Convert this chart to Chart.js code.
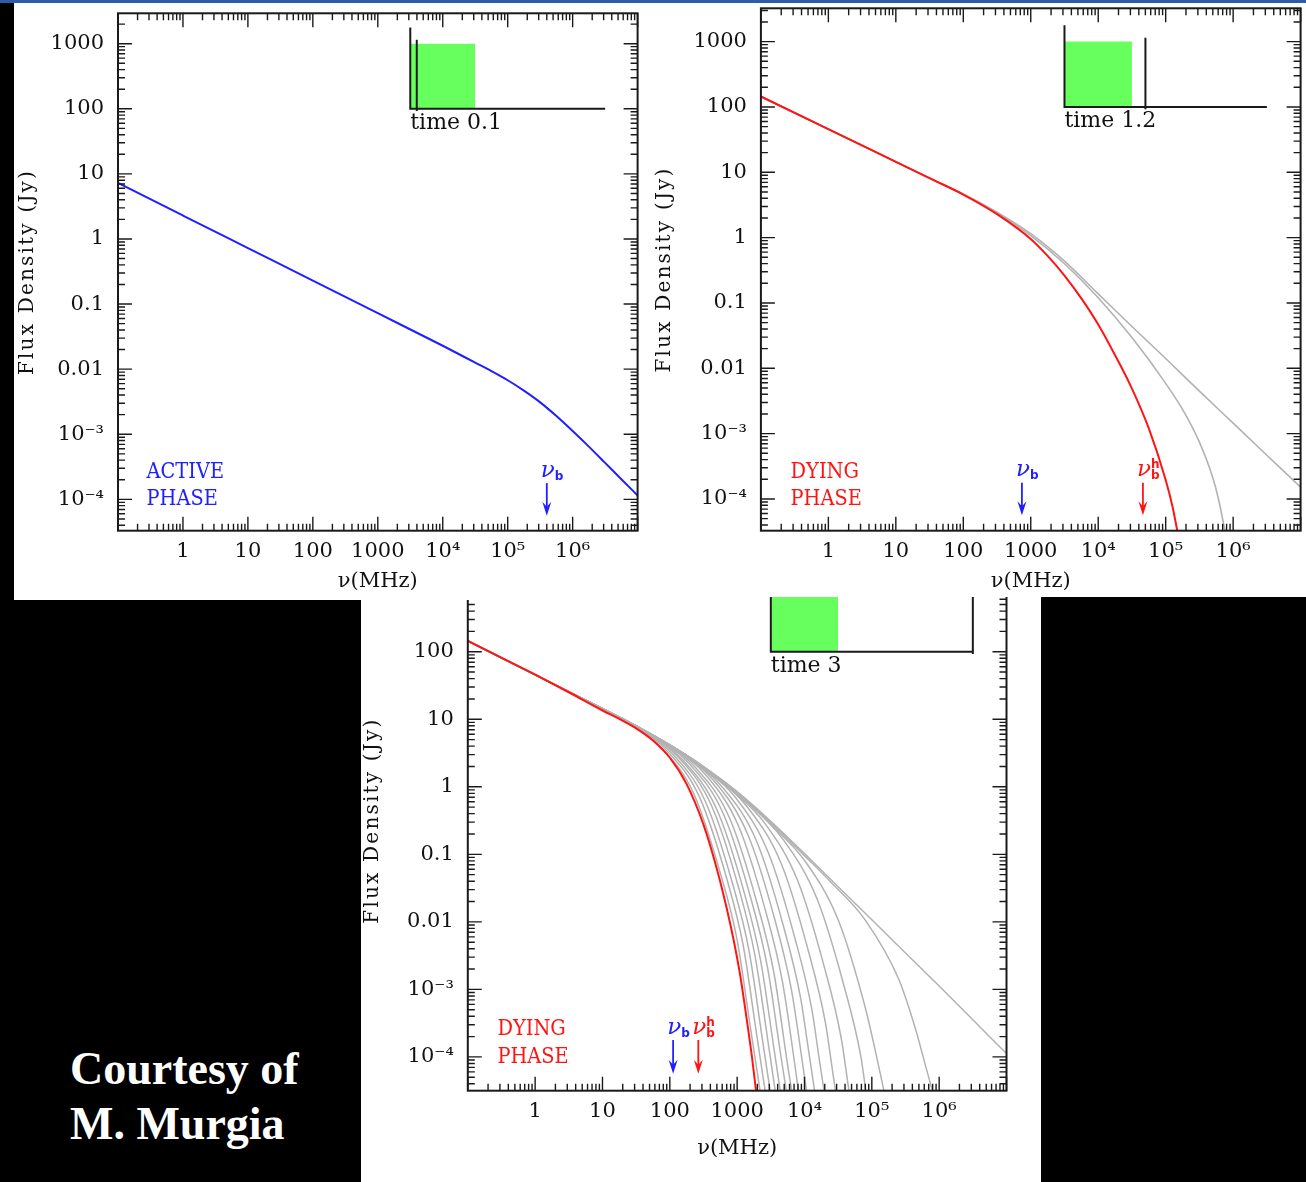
<!DOCTYPE html>
<html>
<head>
<meta charset="utf-8">
<title>Radio spectra: active and dying phase</title>
<script src="https://cdn.jsdelivr.net/npm/chart.js@4.4.1/dist/chart.umd.min.js"></script>
<style>
  html, body { margin: 0; padding: 0; }
  body { width: 1306px; height: 1182px; background: #000; position: relative; overflow: hidden; }
  canvas { display: block; }
  #strip { position: absolute; left: 0; top: 0; width: 1306px; height: 3px; background: #2d5da6; z-index: 3; }
  .panel { position: absolute; background: #fff; }
  #boxA { left: 14px; top: 3px; width: 640px; height: 597px; z-index: 2; }
  #boxB { left: 654px; top: 3px; width: 652px; height: 594px; z-index: 2; }
  #boxC { left: 361px; top: 597px; width: 680px; height: 585px; overflow: hidden; z-index: 1; }
  #boxC canvas { position: absolute; left: 0; top: -67px; }
  .credit { position: absolute; left: 70px; color: #fff; font: bold 46px "Liberation Serif", serif; line-height: 1; white-space: nowrap; }
</style>
</head>
<body>
<div id="strip"></div>
<div class="panel" id="boxA"><canvas id="active" width="640" height="597"></canvas></div>
<div class="panel" id="boxB"><canvas id="dying12" width="652" height="594"></canvas></div>
<div class="panel" id="boxC"><canvas id="dying3" width="680" height="652"></canvas></div>
<div class="credit" style="top:1046px">Courtesy of</div>
<div class="credit" style="top:1101px">M. Murgia</div>

<script>
// axis ticks (spectra below are given as [log10 nu(MHz), log10 S(Jy)])
const xTickValues = [1, 10, 100, 1000, 1e4, 1e5, 1e6];
const xTickLabels = ['1', '10', '100', '1000', '10⁴', '10⁵', '10⁶'];
const yTickValues = [1e-4, 1e-3, 0.01, 0.1, 1, 10, 100, 1000];
const yTickLabels = ['10⁻⁴', '10⁻³', '0.01', '0.1', '1', '10', '100', '1000'];

// time 0.1 - active phase
const activeSpectrum = [[-1, 0.86], [0, 0.36], [1, -0.14], [2, -0.64], [3, -1.14], [4, -1.64], [4.5, -1.90],
  [4.75, -2.03], [5, -2.17], [5.25, -2.33], [5.5, -2.51], [5.75, -2.72], [6, -2.95], [6.25, -3.19], [6.5, -3.44],
  [6.75, -3.69], [7, -3.94]];
const activeBreaks = [4.0e5];

// time 1.2 - dying phase
const t12Spectrum = [[-1, 2.16], [0, 1.66], [1, 1.16], [1.5, 0.91], [2, 0.66], [2.5, 0.36], [3, -0.02],
  [3.25, -0.28], [3.5, -0.58], [3.75, -0.93], [4, -1.33], [4.25, -1.80], [4.5, -2.31], [4.75, -2.92],
  [5, -3.71], [5.1, -4.11], [5.175, -4.5]];
const t12Earlier = [
  [[-1, 2.16], [0, 1.66], [1, 1.16], [1.5, 0.91], [2, 0.67], [2.5, 0.39], [3, 0.06], [3.5, -0.36], [4, -0.86],
   [4.5, -1.36], [5, -1.85], [5.5, -2.35], [6, -2.84], [6.5, -3.33], [7, -3.82]],
  [[-1, 2.16], [0, 1.66], [1, 1.16], [1.5, 0.91], [2, 0.66], [2.5, 0.38], [3, 0.03], [3.5, -0.40], [4, -0.92],
   [4.5, -1.53], [5, -2.23], [5.25, -2.63], [5.5, -3.13], [5.7, -3.68], [5.8, -4.08], [5.88, -4.5]]
];
const t12Breaks = [740, 4.6e4];

// time 3 - dying phase
const t3Spectrum = [[-1, 2.16], [0, 1.66], [0.5, 1.40], [1, 1.13], [1.25, 1.005], [1.5, 0.865], [1.75, 0.685],
  [2, 0.43], [2.25, 0.04], [2.5, -0.56], [2.7, -1.22], [2.85, -1.82], [2.95, -2.28], [3.05, -2.82], [3.15, -3.50],
  [3.22, -4.0], [3.28, -4.5]];
const t3Earlier = [
  [[-1, 2.16], [0, 1.66], [1, 1.16], [1.5, 0.90], [2, 0.62], [2.5, 0.30], [3, -0.07], [3.5, -0.51], [4, -0.99],
   [4.5, -1.48], [5, -1.97], [5.5, -2.46], [6, -2.95], [6.5, -3.45], [7, -3.95]],
  [[-1, 2.16], [0, 1.66], [1, 1.16], [1.5, 0.90], [2, 0.62], [2.5, 0.30], [3, -0.08], [3.5, -0.53], [4, -1.02],
   [4.4, -1.42], [4.9, -1.97], [5.4, -2.85], [5.65, -3.59], [5.8, -4.14], [5.9, -4.5]],
  [[-1, 2.16], [0, 1.66], [1, 1.16], [1.5, 0.90], [2, 0.62], [2.5, 0.30], [3, -0.09], [3.5, -0.56], [4.0, -1.09],
   [4.5, -1.97], [4.9, -3.26], [5.05, -3.90], [5.18, -4.5]],
  [[-1, 2.16], [0, 1.66], [1, 1.16], [1.5, 0.90], [2, 0.62], [2.5, 0.29], [3, -0.10], [3.69, -0.79], [4.19, -1.67],
   [4.59, -2.96], [4.84, -4.01], [4.91, -4.5]],
  [[-1, 2.16], [0, 1.66], [1, 1.16], [1.5, 0.90], [2, 0.62], [2.5, 0.29], [3.0, -0.12], [3.395, -0.52], [3.895, -1.38],
   [4.295, -2.67], [4.545, -3.72], [4.66, -4.5]],
  [[-1, 2.16], [0, 1.66], [1, 1.16], [1.5, 0.90], [2, 0.62], [2.5, 0.28], [3.16, -0.31], [3.66, -1.15], [4.06, -2.44],
   [4.31, -3.49], [4.41, -4.16], [4.46, -4.5]],
  [[-1, 2.16], [0, 1.66], [1, 1.15], [1.5, 0.90], [2, 0.61], [2.5, 0.27], [2.96, -0.14], [3.46, -0.97], [3.86, -2.25],
   [4.11, -3.30], [4.21, -3.97], [4.29, -4.5]],
  [[-1, 2.16], [0, 1.66], [1, 1.15], [1.5, 0.90], [2, 0.61], [2.795, -0.02], [3.295, -0.82], [3.695, -2.09],
   [3.945, -3.14], [4.045, -3.80], [4.15, -4.5]],
  [[-1, 2.16], [0, 1.66], [1, 1.15], [1.5, 0.90], [2, 0.61], [2.655, 0.09], [3.155, -0.70], [3.555, -1.95],
   [3.805, -3.00], [4.005, -4.33], [4.03, -4.5]],
  [[-1, 2.16], [0, 1.66], [1, 1.15], [1.5, 0.90], [2, 0.61], [2.52, 0.19], [3.02, -0.58], [3.42, -1.83],
   [3.67, -2.87], [3.87, -4.21], [3.91, -4.5]],
  [[-1, 2.16], [0, 1.66], [1, 1.15], [1.5, 0.90], [2.395, 0.27], [2.895, -0.48], [3.295, -1.72], [3.545, -2.75],
   [3.745, -4.09], [3.81, -4.5]],
  [[-1, 2.16], [0, 1.66], [1, 1.15], [1.5, 0.90], [2.3, 0.33], [2.8, -0.41], [3.2, -1.64], [3.45, -2.67],
   [3.65, -3.99], [3.73, -4.5]],
  [[-1, 2.16], [0, 1.66], [1, 1.15], [1.5, 0.90], [2.2, 0.39], [2.7, -0.34], [3.1, -1.55], [3.35, -2.58],
   [3.55, -3.90], [3.64, -4.5]],
  [[-1, 2.16], [0, 1.66], [1, 1.15], [1.5, 0.89], [2.115, 0.45], [2.615, -0.27], [3.015, -1.47], [3.265, -2.50],
   [3.465, -3.82], [3.565, -4.5]],
  [[-1, 2.16], [0, 1.66], [1, 1.15], [1.5, 0.89], [2.025, 0.50], [2.525, -0.21], [2.925, -1.41], [3.175, -2.42],
   [3.375, -3.74], [3.49, -4.5]],
  [[-1, 2.16], [0, 1.66], [1, 1.15], [1.5, 0.88], [1.94, 0.55], [2.44, -0.15], [2.84, -1.34], [3.09, -2.35],
   [3.29, -3.67], [3.415, -4.5]],
  [[-1, 2.16], [0, 1.66], [1, 1.15], [1.5, 0.87], [1.85, 0.60], [2.35, -0.09], [2.75, -1.28], [3.0, -2.27],
   [3.2, -3.59], [3.34, -4.5]]
];
const t3Breaks = [112, 265];

// little time inset: active phase lasts 1 unit, axis runs to 3
const activePhaseEnd = 1;
const timeAxisEnd = 3;
const insetLogNuAtZero = 3.5;

const BLUE = '#2020ff', RED = '#ff1414', GREY = '#b2b2b2', INK = '#1a1a1a';

Chart.defaults.font.family = '"DejaVu Serif", serif';
Chart.defaults.color = '#111';

function spectrum(points, color, width) {
  return {
    data: points.map(p => ({ x: 10 ** p[0], y: 10 ** p[1] })),
    borderColor: color, borderWidth: width, pointRadius: 0, fill: false,
    cubicInterpolationMode: 'monotone'
  };
}

function insetSets(now) {
  const at = t => 10 ** (insetLogNuAtZero + t);
  return [
    { data: [{ x: at(now), y: 10 ** 3.06 }, { x: at(now), y: 10 ** 1.965 }],
      borderColor: INK, borderWidth: 2, pointRadius: 0, tension: 0 },
    { data: [{ x: at(0), y: 10 ** 3.25 }, { x: at(0), y: 100 }, { x: at(timeAxisEnd), y: 100 }],
      borderColor: INK, borderWidth: 2, pointRadius: 0, tension: 0 },
    { data: [{ x: at(0), y: 1000 }, { x: at(activePhaseEnd), y: 1000 }],
      borderColor: 'rgba(0,0,0,0)', backgroundColor: '#66ff5e', fill: { value: 100 }, pointRadius: 0, tension: 0 }
  ];
}

function logMarks(min, max) {
  const out = [];
  for (let e = Math.floor(Math.log10(min)); e <= Math.ceil(Math.log10(max)); e++) {
    for (let k = 1; k <= 9; k++) {
      const v = k * 10 ** e;
      if (v >= min * 0.999 && v <= max * 1.001) out.push({ v, major: k === 1 });
    }
  }
  return out;
}

function decorations(spec) {
  return {
    id: 'decorations',
    afterDraw(chart) {
      const { ctx, chartArea: a } = chart;
      const xs = chart.scales.x, ys = chart.scales.y;
      const X = v => xs.getPixelForValue(v), Y = v => ys.getPixelForValue(v);
      ctx.save();

      // box with inward ticks on all sides
      ctx.strokeStyle = INK;
      ctx.lineWidth = 2;
      ctx.strokeRect(a.left, a.top, a.right - a.left, a.bottom - a.top);
      ctx.lineWidth = 1.4;
      ctx.beginPath();
      logMarks(xs.min, xs.max).forEach(t => {
        const px = X(t.v), len = t.major ? 14 : 7;
        ctx.moveTo(px, a.bottom); ctx.lineTo(px, a.bottom - len);
        ctx.moveTo(px, a.top); ctx.lineTo(px, a.top + len);
      });
      logMarks(ys.min, ys.max).forEach(t => {
        const py = Y(t.v), len = t.major ? 14 : 7;
        ctx.moveTo(a.left, py); ctx.lineTo(a.left + len, py);
        ctx.moveTo(a.right, py); ctx.lineTo(a.right - len, py);
      });
      ctx.stroke();

      // y title, widely spaced like the original
      ctx.save();
      ctx.translate(spec.yTitleX, (a.top + a.bottom) / 2);
      ctx.rotate(-Math.PI / 2);
      ctx.fillStyle = '#111';
      ctx.font = '20px "DejaVu Serif"';
      ctx.textAlign = 'center';
      ctx.textBaseline = 'middle';
      ctx.letterSpacing = '2.2px';
      ctx.fillText('Flux Density (Jy)', 0, 0);
      ctx.restore();

      // inset caption
      ctx.fillStyle = '#111';
      ctx.font = '22px "DejaVu Serif"';
      ctx.textAlign = 'left';
      ctx.textBaseline = 'middle';
      ctx.fillText('time ' + spec.time, X(10 ** insetLogNuAtZero), Y(10 ** 1.785));

      // phase name
      ctx.fillStyle = spec.phaseColor;
      const lineLogS = [-3.59, -4.0];
      spec.phase.forEach((line, i) => {
        ctx.save();
        ctx.translate(X(10 ** -0.56), Y(10 ** lineLogS[i]));
        ctx.scale(0.88, 1);
        ctx.fillText(line, 0, 0);
        ctx.restore();
      });

      // break frequency arrows
      spec.breaks.forEach((nu, i) => {
        const color = i === 0 ? BLUE : RED;
        const px = X(nu), y0 = Y(10 ** -3.75), y1 = Y(10 ** -4.25), base = Y(10 ** -3.655);
        ctx.strokeStyle = color;
        ctx.fillStyle = color;
        ctx.lineWidth = 1.8;
        ctx.beginPath(); ctx.moveTo(px, y0); ctx.lineTo(px, y1 - 8); ctx.stroke();
        ctx.beginPath();
        ctx.moveTo(px - 4.5, y1 - 14); ctx.lineTo(px, y1); ctx.lineTo(px + 4.5, y1 - 14); ctx.lineTo(px, y1 - 9);
        ctx.closePath(); ctx.fill();
        ctx.textBaseline = 'alphabetic';
        ctx.textAlign = 'center';
        ctx.font = 'italic 23px "DejaVu Serif"';
        ctx.fillText('ν', px + 1, base);
        ctx.textAlign = 'left';
        ctx.font = 'bold 12px "DejaVu Sans"';
        ctx.fillText('b', px + 8, base + 3);
        if (i > 0) ctx.fillText('h', px + 8, base - 8);
      });
      ctx.restore();
    }
  };
}

function panel(id, spec) {
  return new Chart(document.getElementById(id), {
    type: 'line',
    data: { datasets: spec.datasets },
    options: {
      responsive: false,
      animation: false,
      events: [],
      layout: { padding: { left: 0, right: spec.padRight, top: spec.padTop, bottom: 0 } },
      plugins: { legend: { display: false }, tooltip: { enabled: false } },
      scales: {
        x: {
          type: 'logarithmic', min: 0.1, max: 1e7,
          grid: { display: false, drawTicks: false }, border: { display: false },
          afterBuildTicks: s => { s.ticks = xTickValues.map(v => ({ value: v })); },
          afterFit: s => { s.height = spec.xAxisHeight; s.paddingLeft = 0; s.paddingRight = 0; },
          ticks: { autoSkip: false, maxRotation: 0, minRotation: 0, padding: 8, color: '#111',
                   font: { size: 21 }, callback: (v, i) => xTickLabels[i] },
          title: { display: true, text: 'ν(MHz)', color: '#111', font: { size: 21 },
                   padding: { top: 0, bottom: spec.xTitlePad } }
        },
        y: {
          type: 'logarithmic', min: spec.yMin, max: spec.yMax,
          grid: { display: false, drawTicks: false }, border: { display: false },
          afterBuildTicks: s => { s.ticks = yTickValues.map(v => ({ value: v })); },
          afterFit: s => { s.width = spec.yAxisWidth; s.paddingTop = 0; s.paddingBottom = 0; },
          ticks: { autoSkip: false, padding: 14, color: '#111', font: { size: 21 },
                   callback: (v, i) => yTickLabels[i] },
          title: { display: false }
        }
      }
    },
    plugins: [decorations(spec)]
  });
}

panel('active', {
  datasets: [spectrum(activeSpectrum, BLUE, 2)].concat(insetSets(0.1)),
  yMin: 3.3e-5, yMax: 2930, yAxisWidth: 104, padRight: 16.4, padTop: 10.3,
  xAxisHeight: 69.3, xTitlePad: 5.4, yTitleX: 14,
  time: '0.1', phase: ['ACTIVE', 'PHASE'], phaseColor: BLUE, breaks: activeBreaks
});

panel('dying12', {
  datasets: [spectrum(t12Spectrum, RED, 2)]
    .concat(t12Earlier.map(c => spectrum(c, GREY, 1.6)))
    .concat(insetSets(1.2)),
  yMin: 3.27e-5, yMax: 3236, yAxisWidth: 106.9, padRight: 5.4, padTop: 5.3,
  xAxisHeight: 66.3, xTitlePad: 2.7, yTitleX: 10.5,
  time: '1.2', phase: ['DYING', 'PHASE'], phaseColor: RED, breaks: t12Breaks
});

panel('dying3', {
  datasets: [spectrum(t3Spectrum, RED, 2)]
    .concat(t3Earlier.map(c => spectrum(c, GREY, 1.5)))
    .concat(insetSets(3)),
  yMin: 3.16e-5, yMax: 3162, yAxisWidth: 106.8, padRight: 34.5, padTop: 20.45,
  xAxisHeight: 91.3, xTitlePad: 21, yTitleX: 12,
  time: '3', phase: ['DYING', 'PHASE'], phaseColor: RED, breaks: t3Breaks
});
</script>
</body>
</html>
